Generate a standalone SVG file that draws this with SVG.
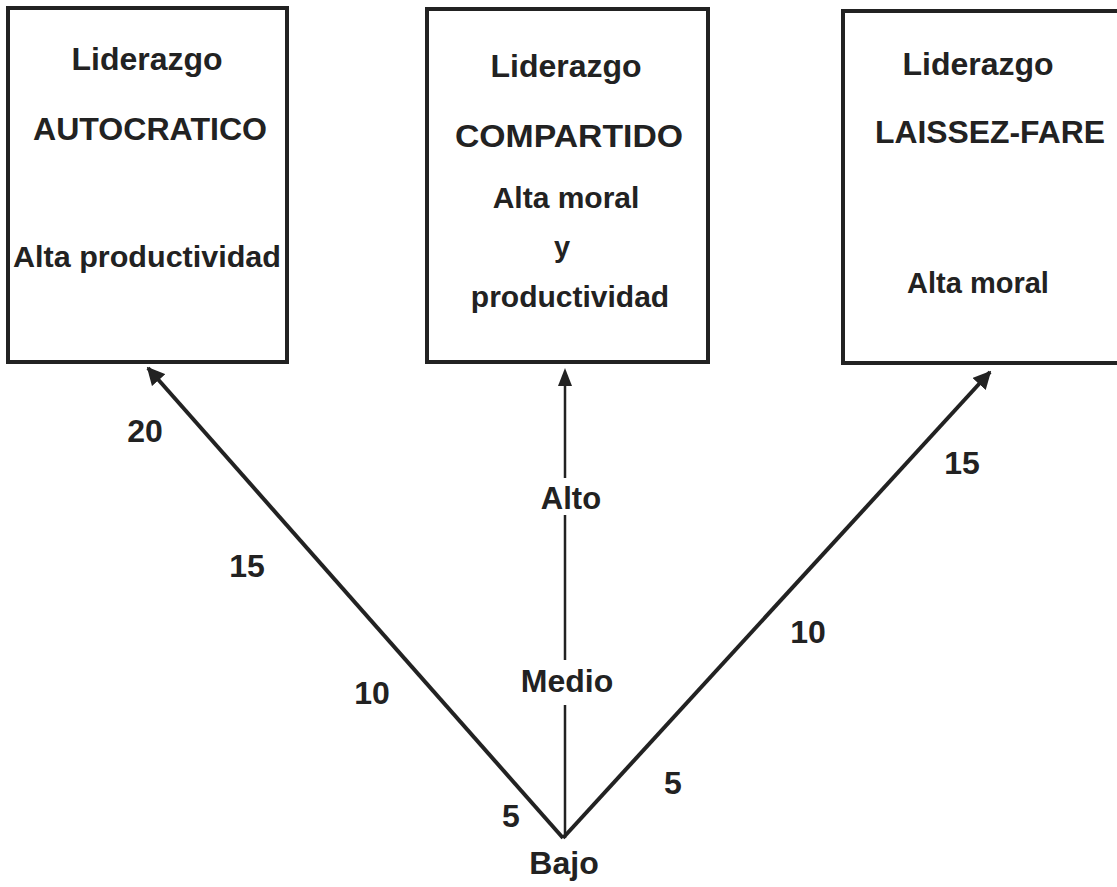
<svg xmlns="http://www.w3.org/2000/svg" width="1117" height="887" viewBox="0 0 1117 887">
<defs>
<style>
.box{fill:#fff;stroke:#222;stroke-width:4}
.t{font-family:"Liberation Sans",Arial,sans-serif;fill:#222;text-anchor:middle;font-weight:bold}
.ln{stroke:#222;fill:none}
</style>
<marker id="ah" viewBox="0 0 10 10" refX="9" refY="5" markerWidth="4.5" markerHeight="4.5" orient="auto" markerUnits="strokeWidth">
<path d="M0,0 L10,5 L0,10 z" fill="#222"/>
</marker>
</defs>
<rect width="1117" height="887" fill="#fff"/>
<g id="node-autocratico">
<rect class="box" x="8" y="8" width="279" height="354"/>
<text class="t" x="147" y="70" font-size="32">Liderazgo</text>
<text class="t" x="150" y="140" font-size="31" textLength="234" lengthAdjust="spacingAndGlyphs">AUTOCRATICO</text>
<text class="t" x="147" y="267" font-size="30" textLength="268" lengthAdjust="spacingAndGlyphs">Alta productividad</text>
</g>
<g id="node-compartido">
<rect class="box" x="427" y="9" width="281" height="353"/>
<text class="t" x="566" y="77" font-size="32">Liderazgo</text>
<text class="t" x="569" y="147" font-size="31" textLength="228" lengthAdjust="spacingAndGlyphs">COMPARTIDO</text>
<text class="t" x="566" y="208" font-size="30">Alta moral</text>
<text class="t" x="562" y="257" font-size="29">y</text>
<text class="t" x="570" y="307" font-size="30">productividad</text>
</g>
<g id="node-laissez">
<rect class="box" x="843" y="11" width="290" height="352"/>
<text class="t" x="978" y="75" font-size="32">Liderazgo</text>
<text class="t" x="990" y="143" font-size="31" textLength="230" lengthAdjust="spacingAndGlyphs">LAISSEZ-FARE</text>
<text class="t" x="978" y="293" font-size="29">Alta moral</text>
</g>
<g id="connectors">
<line class="ln" x1="563" y1="838" x2="148" y2="368" stroke-width="4" marker-end="url(#ah)"/>
<line class="ln" x1="563" y1="838" x2="990" y2="372" stroke-width="4" marker-end="url(#ah)"/>
<path class="ln" d="M565,838 V705 M565,660 V515 M565,478 V376" stroke-width="2.5"/>
<path d="M565,368 L558,386 L572,386 z" fill="#222"/>
</g>
<g id="labels">
<text class="t" x="145" y="442" font-size="32">20</text>
<text class="t" x="247" y="577" font-size="32">15</text>
<text class="t" x="372" y="704" font-size="32">10</text>
<text class="t" x="511" y="827" font-size="32">5</text>
<text class="t" x="571" y="509" font-size="31">Alto</text>
<text class="t" x="567" y="692" font-size="32">Medio</text>
<text class="t" x="564" y="874" font-size="32">Bajo</text>
<text class="t" x="673" y="794" font-size="32">5</text>
<text class="t" x="808" y="643" font-size="32">10</text>
<text class="t" x="962" y="474" font-size="32">15</text>
</g>
</svg>
